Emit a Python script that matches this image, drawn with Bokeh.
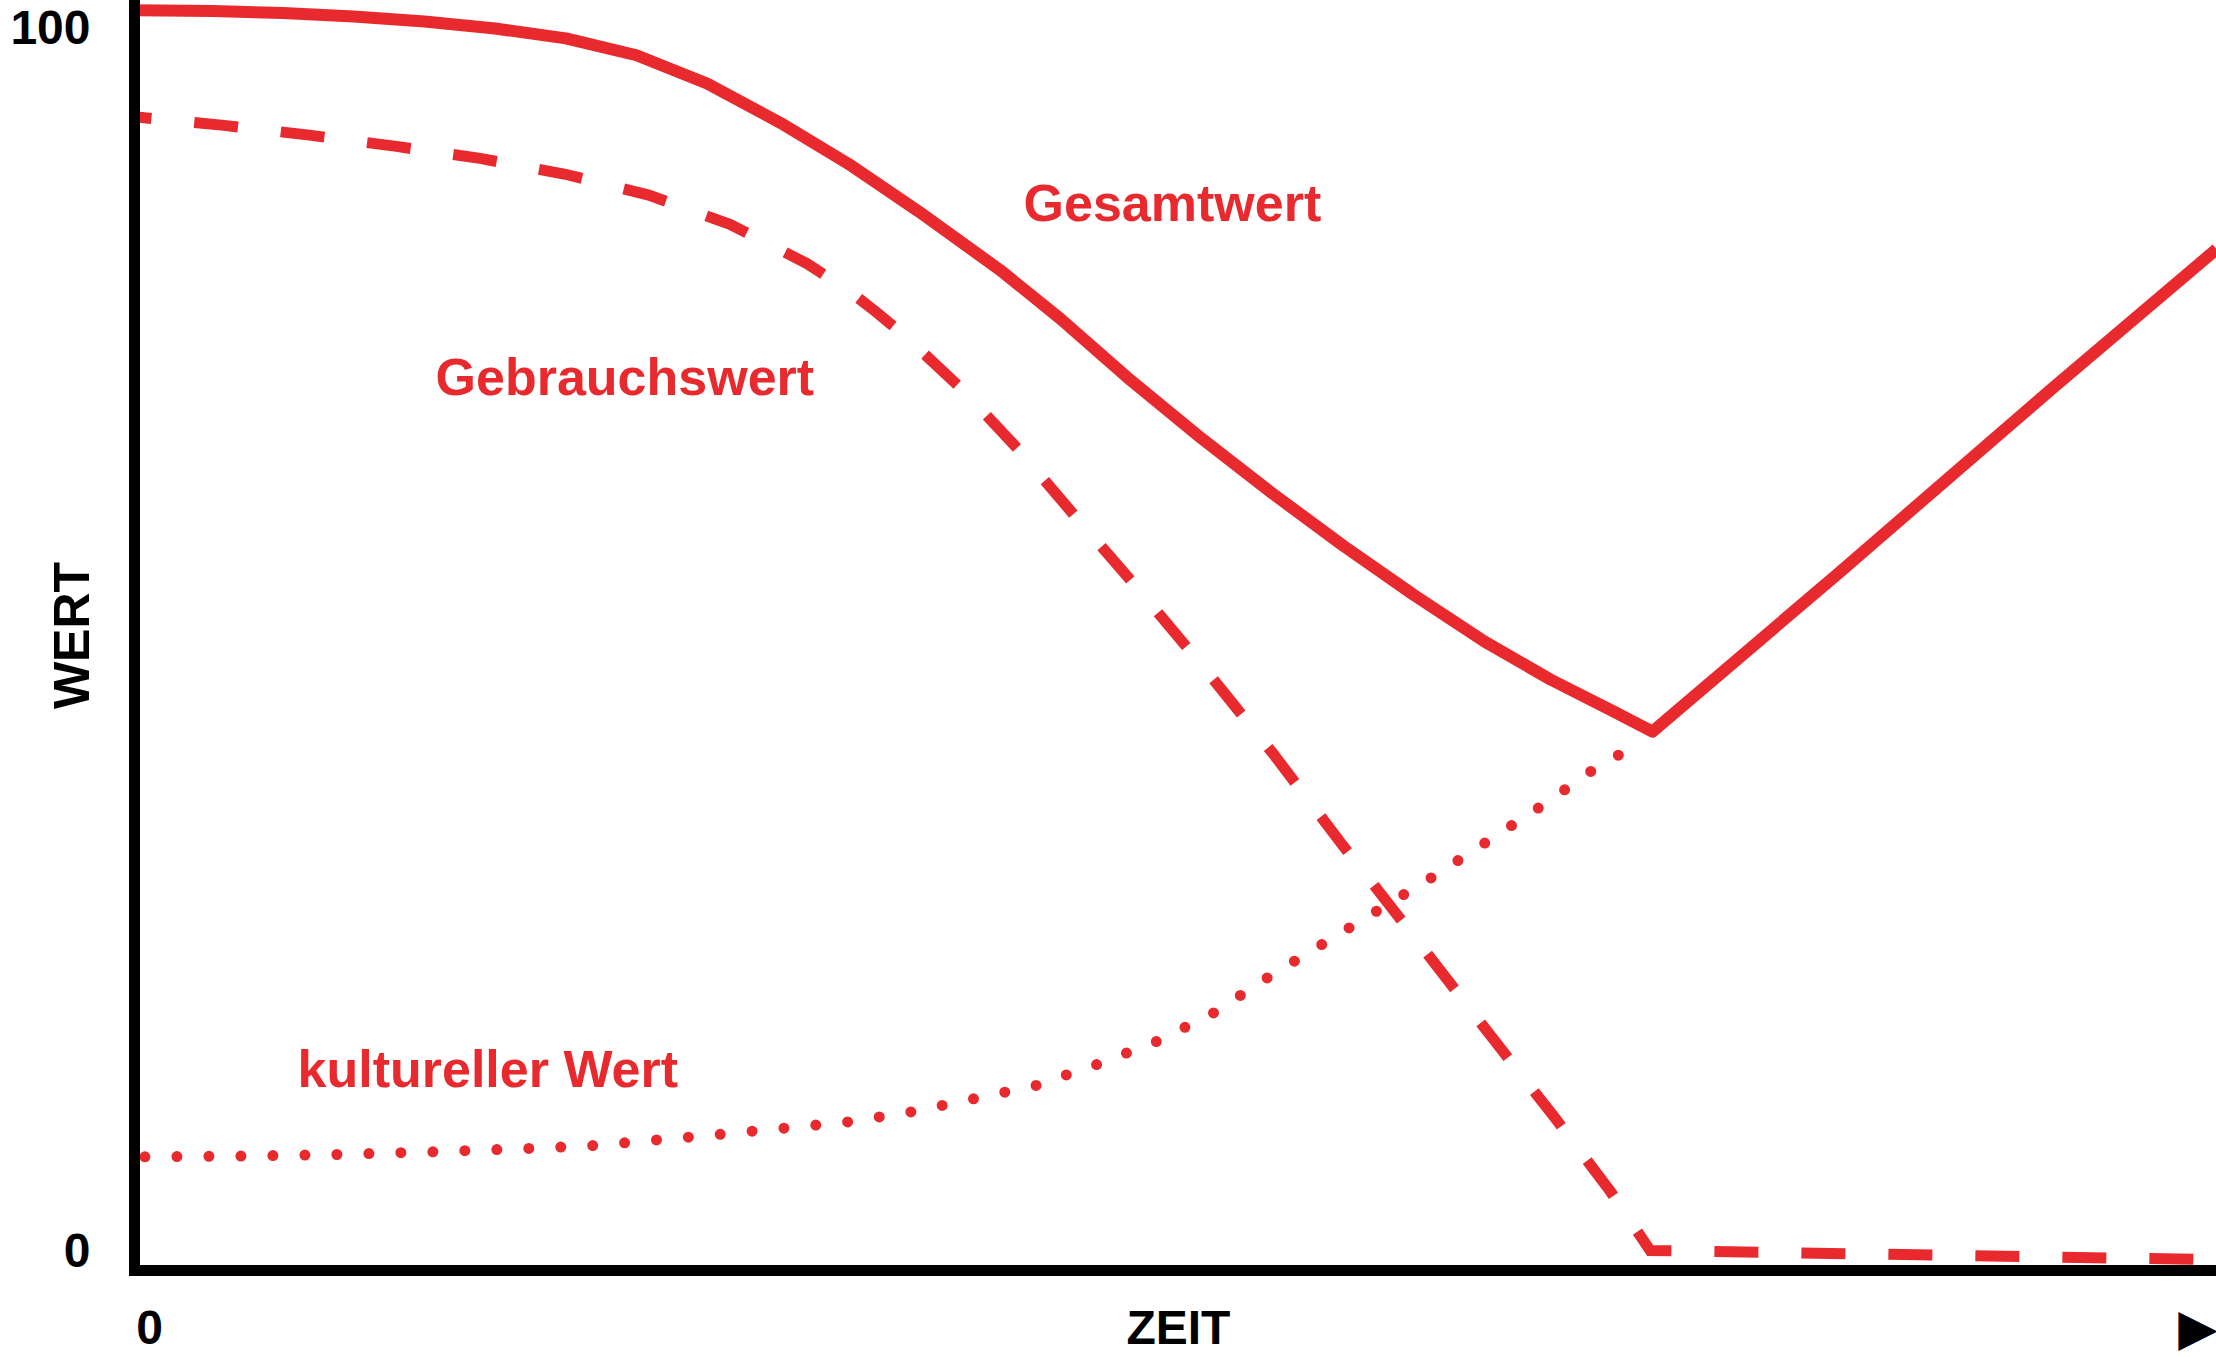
from bokeh.plotting import figure
from bokeh.models import Range1d, FixedTicker, Label
from bokeh.embed import file_html
from bokeh.resources import INLINE

RED = "#e8292d"
FONT = "Liberation Sans"

# Gesamtwert (solid line)
gesamt_x = [0, 3.75, 7.14, 10.53, 13.93, 17.32, 20.72, 24.11, 27.5, 31.03, 34.29, 37.68,
            41.59, 44.47, 47.87, 51.26, 54.66, 58.05, 61.45, 64.84, 68.01, 70.94, 72.91,
            81.81, 91.99, 100]
gesamt_y = [101.41, 101.36, 101.18, 100.9, 100.49, 99.92, 99.11, 97.73, 95.42, 92.2, 88.86,
            84.94, 80.15, 76.19, 71.12, 66.39, 61.9, 57.64, 53.6, 49.8, 46.69, 44.16, 42.43,
            55.33, 70.31, 81.88]

# Gebrauchswert (dashed line)
gebrauch_x = [0, 4.3, 8.4, 12.5, 16.6, 20.7, 24.7, 28.6, 32.3, 34.3, 35.65, 37.0, 39.7, 42.4,
              45.1, 47.9, 51.3, 54.7, 58.0, 61.4, 64.8, 68.2, 70.9, 72.8, 100]
gebrauch_y = [92.7, 92.0, 91.2, 90.3, 89.3, 88.0, 86.3, 83.9, 80.7, 78.5, 76.7, 74.8, 70.5,
              65.6, 60.2, 54.7, 47.8, 40.6, 33.2, 25.8, 18.3, 10.9, 4.8, 0.0, -0.75]

# kultureller Wert (dotted line)
kultur_x = [0.5, 5.1, 9.7, 14.3, 18.9, 22.0, 27.5, 34.2, 37.2, 40.3, 43.3, 46.2, 49.1,
            51.8, 54.5, 57.2, 59.9, 62.5, 65.2, 67.8, 70.3, 71.7]
kultur_y = [7.66, 7.72, 7.85, 8.07, 8.34, 8.58, 9.4, 10.5, 11.3, 12.4, 13.5, 15.2, 17.1,
            19.4, 22.4, 25.2, 28.0, 30.7, 33.7, 36.6, 39.6, 40.9]

y_ticks = [0, 100]
y_tick_labels = ["0", "100"]
x_ticks = [0.72, 50.14, 99.09]
x_tick_labels = ["0", "ZEIT", "\u25B6"]
y_title = "WERT"

p = figure(width=2216, height=1357, output_backend="svg", toolbar_location=None,
           x_range=Range1d(0, 100), y_range=Range1d(-1.635, 102.21),
           min_border_left=134, min_border_right=0, min_border_top=0, min_border_bottom=87)
p.grid.visible = False
p.outline_line_color = None
p.background_fill_color = "white"
p.border_fill_color = "white"

for ax in (p.xaxis[0], p.yaxis[0]):
    ax.axis_line_color = "black"
    ax.axis_line_width = 11
    ax.axis_line_cap = "square"
    ax.major_tick_line_color = None
    ax.minor_tick_line_color = None
    ax.major_tick_out = 0
    ax.major_tick_in = 0
    ax.major_label_text_font = FONT
    ax.major_label_text_font_style = "bold"
    ax.major_label_text_font_size = "48px"
    ax.major_label_text_color = "black"
    ax.axis_label_text_font = FONT
    ax.axis_label_text_font_style = "bold"
    ax.axis_label_text_font_size = "50px"
    ax.axis_label_text_color = "black"

p.yaxis[0].ticker = FixedTicker(ticks=y_ticks)
p.yaxis[0].major_label_overrides = dict(zip(y_ticks, y_tick_labels))
p.yaxis[0].major_label_standoff = 44
p.yaxis[0].axis_label = y_title
p.yaxis[0].axis_label_standoff = -93

p.xaxis[0].ticker = FixedTicker(ticks=x_ticks)
p.xaxis[0].major_label_overrides = dict(zip(x_ticks, x_tick_labels))
p.xaxis[0].major_label_standoff = 30

p.line(gesamt_x, gesamt_y, line_color=RED, line_width=12, line_join="round")
p.line(gebrauch_x, gebrauch_y, line_color=RED, line_width=11, line_dash="44 43",
       line_dash_offset=27, line_join="miter")
p.line(kultur_x, kultur_y, line_color=RED, line_width=11, line_dash="0 32",
       line_cap="round")

def red_label(txt, x, y):
    p.add_layout(Label(x=x, y=y, text=txt, text_font=FONT, text_font_style="bold",
                       text_font_size="52px", text_color=RED, text_align="left",
                       text_baseline="alphabetic"))

red_label("Gesamtwert", 42.7, 85.69)
red_label("Gebrauchswert", 14.46, 71.46)
red_label("kultureller Wert", 7.83, 14.84)

open("out.html", "w").write(file_html(p, INLINE))
